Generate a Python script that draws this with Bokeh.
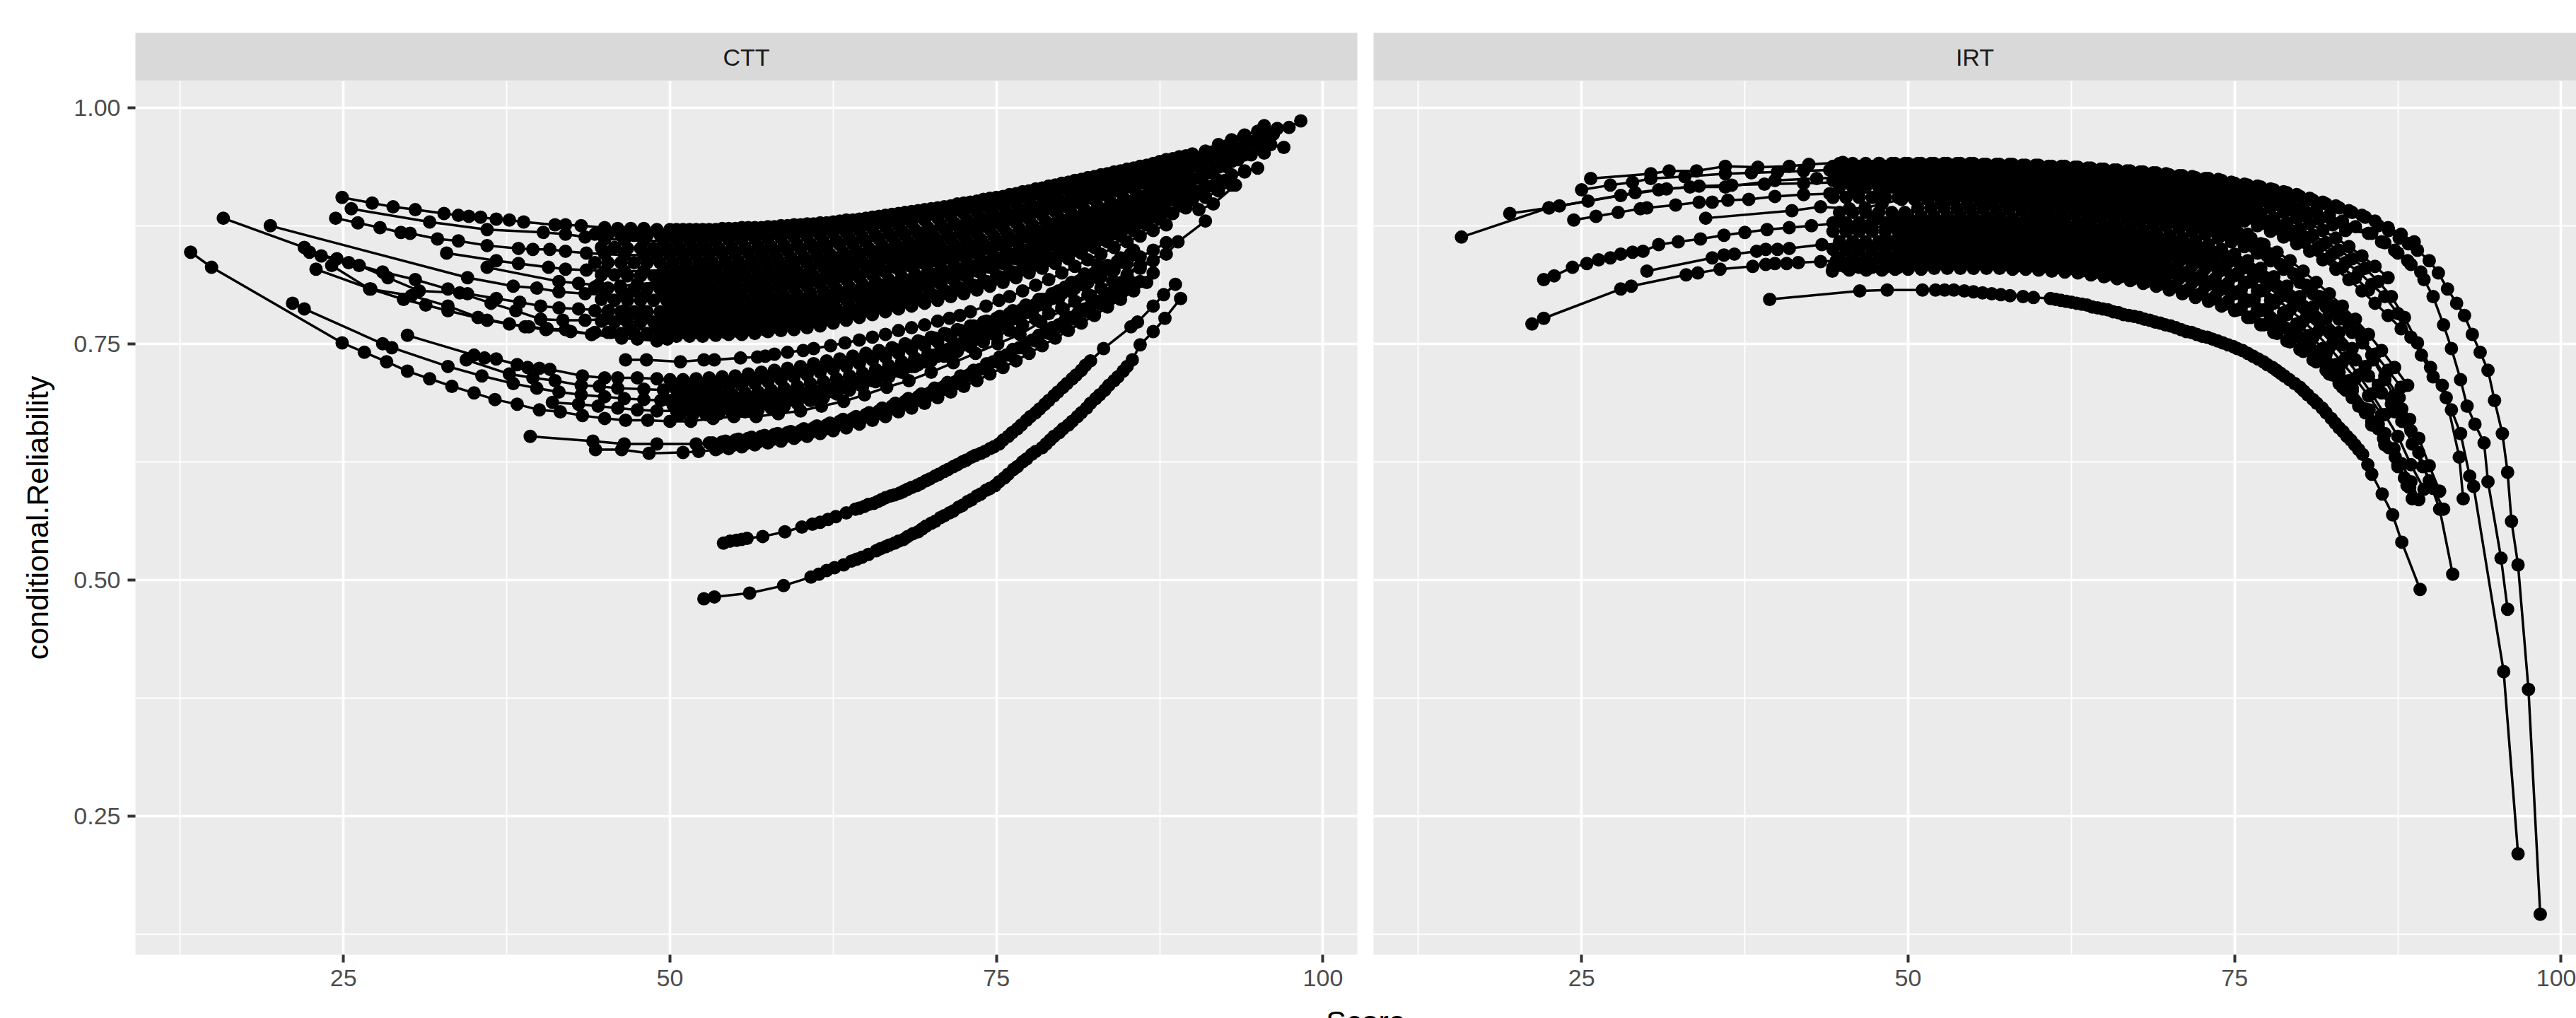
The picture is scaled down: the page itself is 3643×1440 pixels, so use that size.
from bokeh.embed import file_html
from bokeh.resources import INLINE
from bokeh.plotting import figure
from bokeh.layouts import column, row
from bokeh.models import FixedTicker, NumeralTickFormatter, Range1d
from bokeh.core.properties import value

panel_names = ["CTT", "IRT"]
x_label = "Score"
y_label = "conditional.Reliability"
x_ticks = [25, 50, 75, 100]
x_minor = [12.5, 37.5, 62.5, 87.5]
y_ticks = [0.25, 0.50, 0.75, 1.00]
y_minor = [0.125, 0.375, 0.625, 0.875]

si = [50,51,52,53,54,55,56,57,58,59,60,61,62,63,64,65,66,67,68,69,70,71,72,73,74,75,76,77,78,79,80,81,82,83,84,85,86,87,88,89,90]
sh = [50.5,51.5,52.5,53.5,54.5,55.5,56.5,57.5,58.5,59.5,60.5,61.5,62.5,63.5,64.5,65.5,66.5,67.5,68.5,69.5,70.5,71.5,72.5,73.5,74.5,75.5,76.5,77.5,78.5,79.5,80.5,81.5,82.5,83.5,84.5,85.5,86.5,87.5,88.5,89.5]
sq = [44.25,45.25,46.25,47.25,48.25,49.25,50.25,51.25,52.25,53.25,54.25,55.25,56.25,57.25,58.25,59.25,60.25,61.25,62.25,63.25,64.25,65.25,66.25,67.25,68.25,69.25,70.25,71.25,72.25,73.25,74.25,75.25,76.25,77.25,78.25,79.25,80.25,81.25,82.25,83.25,84.25,85.25,86.25,87.25,88.25,89.25]
sr = [44.75,45.75,46.75,47.75,48.75,49.75,50.75,51.75,52.75,53.75,54.75,55.75,56.75,57.75,58.75,59.75,60.75,61.75,62.75,63.75,64.75,65.75,66.75,67.75,68.75,69.75,70.75,71.75,72.75,73.75,74.75,75.75,76.75,77.75,78.75,79.75,80.75,81.75,82.75,83.75,84.75,85.75,86.75,87.75,88.75,89.75]

# ---- CTT panel ----
c1_hx = [24.9,27.2,28.8,30.5,32.7,33.8,34.6,35.5,36.7,37.7,38.8,41.2,42,43.2,45,46,47,48,49]
c1_hy = [.905,.899,.895,.892,.888,.886,.885,.884,.882,.881,.879,.876,.876,.875,.873,.872,.872,.872,.871]
c1_y = [.871,.871,.871,.871,.872,.872,.873,.873,.874,.875,.876,.877,.878,.880,.881,.883,.885,.887,.889,.891,.893,.895,.898,.900,.903,.905,.908,.911,.914,.917,.920,.923,.926,.929,.932,.935,.938,.941,.945,.948,.951]
c1_tx = [91,92,93,94,95,95.5,96.5,97.4,98.3]
c1_ty = [.954,.961,.966,.971,.975,.977,.978,.979,.986]
c1b_y = [.871,.871,.871,.871,.872,.873,.873,.874,.875,.876,.877,.878,.879,.881,.882,.884,.886,.888,.890,.892,.894,.896,.899,.901,.904,.906,.909,.912,.915,.918,.921,.924,.927,.930,.933,.936,.939,.943,.946,.949]
c2_hx = [25.6,31.6,36,40.3,42,43.5,45,46.5,48,49.5]
c2_hy = [.893,.879,.871,.868,.866,.863,.861,.860,.859,.859]
c2_y = [.859,.859,.859,.859,.860,.860,.861,.861,.862,.863,.864,.865,.867,.868,.870,.872,.874,.876,.878,.881,.883,.885,.888,.890,.893,.896,.899,.902,.905,.908,.912,.915,.918,.922,.925,.929,.932,.936,.939,.943]
c2_tx = [90.5,91.5,92.7,93.9,95.5]
c2_ty = [.947,.953,.960,.969,.981]
c3_hx = [24.4,26.1,27.8,29.4,30.1,32.2,33.8,36,38.4,39.5,40.8,42,43.6,45,46.5,48,49]
c3_hy = [.883,.878,.873,.868,.867,.861,.859,.854,.851,.850,.850,.848,.846,.845,.844,.844,.844]
c3_y = [.844,.844,.844,.844,.845,.845,.846,.846,.847,.849,.850,.851,.852,.855,.856,.858,.861,.863,.865,.867,.869,.872,.875,.877,.880,.883,.886,.890,.893,.897,.900,.904,.908,.911,.915,.919,.922,.926,.931,.934,.938]
c3_tx = [91,92,93,94,95,96.2]
c3_ty = [.943,.948,.955,.961,.967,.972]
c4_hx = [32.9,36.7,38.4,40.7,42,43.6,45,46.5,48,49.5]
c4_hy = [.846,.838,.835,.831,.829,.828,.827,.827,.827,.828]
c4_y = [.828,.828,.829,.829,.830,.830,.831,.832,.833,.834,.836,.837,.839,.841,.843,.846,.848,.850,.853,.855,.858,.861,.864,.867,.871,.874,.878,.882,.886,.890,.894,.898,.903,.907,.911,.915,.920,.924,.929,.933]
c4_tx = [90.5,91.5,92.5,93.5,94.5,95.8]
c4_ty = [.938,.944,.950,.957,.964,.965]
c5_hx = [36,41.5,43,44.5,46.2,47.5,49]
c5_hy = [.831,.816,.814,.812,.811,.813,.815]
c5_y = [.815,.815,.815,.815,.816,.816,.817,.818,.819,.820,.821,.822,.825,.827,.829,.832,.834,.837,.839,.842,.844,.847,.850,.853,.856,.859,.863,.867,.871,.875,.879,.883,.888,.892,.897,.901,.906,.910,.915,.920,.924]
c5_tx = [91,92,93,94,95,96,97]
c5_ty = [.930,.937,.943,.950,.957,.961,.958]
c6_hx = [19.4,34.5,38,39.8,41.5,43.5,45,46.5,48,49.5]
c6_hy = [.875,.820,.811,.809,.805,.803,.802,.801,.800,.801]
c6_y = [.801,.801,.802,.802,.803,.804,.805,.806,.807,.809,.811,.813,.815,.818,.820,.823,.826,.829,.832,.835,.838,.841,.844,.847,.851,.855,.859,.864,.868,.873,.877,.882,.887,.892,.897,.902,.907,.912,.917,.921]
c6_tx = [90.5,91.5,92.5,93.5,94.5,95.5]
c6_ty = [.926,.931,.938,.945,.950,.952]
c7_hx = [15.8,22,23.3,25.4,28,30.5,33,34.5,36.7,38.5,40.1,41.5,43,45.3,46.5,48,49.8]
c7_hy = [.883,.852,.843,.836,.826,.818,.808,.803,.798,.794,.790,.788,.787,.785,.785,.784,.783]
c7_y = [.789,.789,.789,.789,.790,.790,.791,.792,.793,.795,.796,.797,.800,.803,.805,.808,.811,.813,.816,.819,.821,.824,.828,.831,.834,.838,.842,.847,.851,.856,.860,.865,.870,.875,.880,.885,.891,.896,.901,.906,.912]
c7_tx = [91,92,93,94,95]
c7_ty = [.917,.923,.929,.933,.936]
c8_hx = [22.4,24.5,26.2,28.4,30.8,33.9,36.3,38.2,40.1,41.8,43.5,45,46.5,48,49.5]
c8_hy = [.847,.840,.833,.820,.806,.804,.793,.785,.776,.775,.775,.776,.776,.777,.778]
c8_y = [.778,.778,.779,.779,.780,.781,.782,.783,.785,.787,.789,.791,.793,.796,.799,.801,.804,.807,.810,.813,.816,.820,.823,.827,.831,.835,.840,.844,.849,.854,.859,.864,.869,.875,.880,.886,.891,.896,.902,.907]
c8_tx = [90.5,91.5,92.5,94]
c8_ty = [.912,.917,.923,.932]
c9_hx = [24.1,27,30.2,33,35.3,37.7,39.2,40.6,42,44,45.5,47,49]
c9_hy = [.833,.808,.801,.790,.778,.771,.768,.766,.765,.760,.762,.765,.766]
c9_y = [.767,.767,.767,.768,.769,.769,.770,.771,.772,.774,.775,.777,.780,.782,.785,.788,.791,.794,.797,.800,.803,.806,.810,.813,.816,.821,.825,.830,.835,.840,.845,.850,.855,.861,.867,.873,.878,.884,.890,.896,.902]
c9_tx = [91,92,93]
c9_ty = [.905,.912,.918]
c10_hx = [22.9,27.1,29.6,31.3,33,36,38.9,40.5,42.4,44,46.3,47.5,49,49.8]
c10_hy = [.829,.808,.797,.791,.785,.775,.768,.765,.763,.760,.756,.755,.753,.755]
c10_y = [.758,.758,.758,.759,.760,.760,.761,.763,.764,.765,.767,.769,.772,.775,.778,.781,.784,.787,.790,.793,.796,.800,.803,.807,.811,.815,.820,.825,.830,.835,.840,.846,.852,.858,.864,.870,.876,.882,.888,.894]
c10_tx = [90.5,91.6,93.3]
c10_ty = [.892,.898,.918]
n2_y = [.866,.866,.865,.865,.865,.865,.864,.864,.864,.864,.865,.865,.866,.866,.867,.868,.869,.870,.872,.874,.875,.877,.879,.881,.883,.885,.887,.889,.892,.894,.897,.899,.903,.906,.909,.912,.915,.918,.921,.925,.928,.931,.934,.937,.941,.945]
n3_y = [.852,.852,.851,.851,.851,.851,.851,.851,.851,.851,.852,.852,.853,.853,.854,.855,.856,.858,.859,.861,.863,.865,.867,.869,.871,.873,.876,.878,.881,.884,.887,.890,.893,.896,.900,.903,.906,.910,.913,.917,.920,.924,.928,.931,.935,.939]
n4_y = [.836,.836,.836,.836,.836,.836,.836,.836,.836,.836,.837,.837,.838,.839,.840,.841,.842,.844,.845,.847,.849,.851,.854,.856,.858,.861,.863,.866,.869,.872,.875,.878,.882,.885,.889,.893,.896,.900,.904,.908,.912,.916,.920,.924,.928,.932]
n5_y = [.823,.823,.822,.822,.822,.822,.822,.822,.822,.822,.823,.823,.824,.825,.826,.827,.829,.831,.833,.835,.837,.840,.842,.845,.847,.850,.852,.855,.858,.861,.865,.868,.872,.876,.880,.884,.888,.892,.896,.900,.904,.908,.913,.918,.922,.926]
n6_y = [.810,.809,.808,.808,.808,.808,.808,.808,.808,.808,.809,.809,.810,.811,.812,.814,.815,.817,.819,.821,.823,.826,.828,.831,.833,.836,.838,.841,.844,.847,.851,.855,.859,.863,.867,.871,.875,.880,.884,.889,.893,.898,.903,.908,.912,.917]
n7_y = [.797,.796,.796,.796,.796,.796,.795,.795,.796,.796,.797,.797,.798,.799,.800,.802,.804,.806,.808,.810,.813,.816,.818,.821,.824,.827,.830,.833,.836,.840,.844,.848,.852,.857,.862,.866,.871,.876,.881,.886,.891,.896,.901,.906,.911,.916]
n8_y = [.785,.784,.784,.784,.784,.784,.784,.784,.784,.785,.785,.786,.787,.788,.789,.791,.793,.795,.797,.800,.802,.805,.808,.811,.814,.817,.820,.823,.827,.830,.834,.838,.843,.847,.852,.857,.862,.867,.872,.877,.882,.887,.892,.897,.903,.908]
n9_y = [.774,.773,.773,.773,.773,.773,.773,.773,.773,.774,.774,.775,.776,.777,.779,.781,.783,.785,.787,.790,.793,.796,.799,.802,.805,.809,.813,.817,.821,.826,.830,.835,.840,.845,.851,.856,.862,.867,.873,.879,.885,.891]
n10_y = [.762,.762,.761,.761,.761,.761,.761,.761,.761,.762,.762,.763,.764,.765,.767,.769,.771,.773,.775,.779,.782,.785,.788,.791,.794,.797,.801,.805,.809,.812,.816,.821,.826,.831,.836,.841,.847,.853,.859,.865,.871,.877,.883,.889]

d1_hx = [21.1,22,28,28.7,33,35.6,38,39.8,41.5,43.2,45,46.5,48,49.3]
d1_hy = [.793,.787,.750,.746,.726,.716,.708,.703,.699,.696,.694,.692,.691,.690]
d1_y = [.690,.690,.690,.691,.691,.692,.693,.694,.696,.697,.699,.701,.704,.707,.710,.713,.717,.720,.724,.728,.732,.737,.742,.747,.752,.758,.764,.770,.776,.782,.788,.795,.802,.809,.816,.823,.830,.838]
d3_hx = [29.9,35,35.8,36.7,38.3,39.1,40,40.8,43.3,45,46,47.5,49]
d3_hy = [.759,.738,.735,.734,.728,.725,.724,.723,.716,.714,.714,.714,.713]
d3_y = [.712,.712,.713,.714,.715,.716,.718,.720,.722,.724,.726,.729,.732,.734,.737,.740,.743,.746,.750,.753,.757,.761,.765,.769,.773,.777,.782,.787,.792,.797,.803,.809,.815,.821,.828,.835,.842,.849,.857]
d4_hx = [34.4,37.7,39.5,41.2,43.2,44.6,46,48,49.5]
d4_hy = [.733,.718,.714,.711,.706,.705,.703,.702,.701]
d4_y = [.701,.702,.702,.703,.704,.706,.708,.710,.712,.715,.717,.720,.723,.726,.729,.733,.736,.740,.744,.748,.752,.757,.762,.767,.773,.778,.784,.790,.797,.804,.811,.818,.825,.833,.841,.849]
d6_hx = [41,43,44.5,46,47.5,49]
d6_hy = [.688,.686,.684,.682,.680,.679]
d6_y = [.679,.680,.680,.681,.682,.683,.684,.686,.688,.690,.693,.696,.699,.703,.707,.711,.716,.721,.726,.731,.737,.743,.749,.755,.761]
dn1_y = [.707,.708,.708,.709,.710,.711,.713,.715,.717,.720,.722,.725,.728,.731,.734,.737,.740,.744,.748,.752,.756,.760,.764,.769,.774,.779,.785,.791,.797,.803,.810,.816,.823,.830,.837,.845]
dn2_y = [.696,.696,.696,.696,.697,.698,.699,.701,.703,.705,.708,.710,.713,.716,.719,.723,.727,.731,.735,.739,.744,.749,.754,.760,.766,.772,.778,.784,.791,.798,.805,.812,.820,.828,.836]
dn3_y = [.685,.685,.685,.686,.687,.688,.689,.690,.692,.694,.696,.699,.702,.705,.709,.713,.718,.722,.727,.732,.738,.744,.750,.756,.762,.769,.776,.783,.791,.798,.806,.814,.822,.830]
dn4_y = [.675,.675,.675,.676,.677,.678,.680,.682,.684,.687,.690,.693,.697,.701,.705,.710,.715,.720,.726,.732,.738,.744,.751,.758,.765,.773,.781,.789,.797,.806,.815,.824,.834]
d2_x = [13.3,14.9,24.9,26.6,28.3,29.9,31.6,33.3,35,36.6,38.3,40,41.6,43.3,45,46.6,48.3,50,51.6,53.3,54.9,56.6,58.3,60,61.6,63.3,64.9,66.6,68.3,70,71.7,73.4,75.1,76.8,78.4,80.1,82.2,83.9,86,88,88.9,91]
d2_y = [.847,.831,.751,.741,.731,.721,.713,.705,.698,.691,.686,.680,.678,.674,.671,.669,.669,.668,.668,.671,.673,.673,.676,.679,.684,.689,.696,.704,.711,.720,.730,.740,.750,.760,.773,.786,.801,.816,.833,.845,.858,.880]
d5_x = [46.6,48.2,50.8,52.6,53.4,55.4,56.7,57.3,58,59,60.2,61,62.3,63.4,64.5,65.5,66.5,67.5,68.5,69.5,70.5,71.4,72.2,73,74.2,75.2,76,77,78,79,80,81,82,83,84,85,86,87,88]
d5_y = [.733,.733,.731,.733,.733,.735,.736,.737,.739,.741,.743,.745,.748,.751,.754,.757,.760,.764,.767,.770,.774,.777,.780,.784,.790,.796,.800,.806,.812,.818,.825,.832,.839,.845,.852,.858,.864,.870,.876]
e1_hx = [39.3,44.1,46.5,49,52]
e1_hy = [.652,.647,.644,.644,.644]
e1_y = [.645,.646,.648,.650,.652,.654,.656,.658,.661,.664,.668,.671,.675,.679,.684,.689,.694,.699,.705,.711,.718,.724,.731,.738,.746,.753,.761,.768,.776,.784,.792,.800,.808,.816,.825]
e2_hx = [44.3,46.3,48.4,51,52.2]
e2_hy = [.638,.638,.634,.635,.636]
e2_y = [.638,.639,.641,.643,.645,.647,.650,.652,.655,.658,.661,.665,.669,.673,.678,.682,.687,.693,.699,.705,.711,.718,.725,.732,.740,.748,.756,.764,.772,.780,.789,.797,.806,.815]
e3_y = [.645,.647,.649,.651,.653,.655,.657,.660,.663,.666,.670,.673,.677,.682,.687,.692,.697,.703,.709,.716,.722,.729,.736,.744,.751,.759,.767,.775,.783,.791,.799,.807,.816]
e4_y = [.640,.642,.644,.646,.648,.651,.653,.656,.659,.663,.667,.671,.675,.680,.685,.691,.697,.703,.709,.716,.723,.731,.738,.746,.754,.762,.770,.778,.787,.795,.804,.813]
a_x = [54.1,54.6,55.1,55.5,55.9,57.1,58.8,60.1,60.9,61.5,62.1,62.7,63.5,64.2,64.9,65.6,66.2,66.9,67.6,68.2,68.9,69.6,70.3,71,71.7,72.4,73.1,73.8,74.5,75.2,75.9,76.6,77.3,78,78.7,79.4,80.1,80.8,81.5,82.2,83.2,85.3,85.8,87,87.8,88.7]
a_y = [.539,.541,.542,.543,.544,.546,.551,.556,.559,.561,.564,.567,.571,.575,.578,.581,.585,.589,.592,.596,.600,.605,.610,.615,.620,.625,.630,.634,.639,.644,.652,.660,.669,.677,.686,.695,.704,.713,.722,.732,.745,.768,.773,.790,.802,.813]
a2_x = [64.5,65.2,65.9,66.5,67.2,67.9,68.5,69.2,69.9,70.6,71.3,72,72.7,73.4,74.1,74.8,75.5,76.2,76.9,77.6,78.3,79,79.7,80.4,81.1,81.8]
a2_y = [.576,.580,.583,.587,.590,.594,.598,.602,.607,.612,.617,.622,.627,.632,.636,.641,.648,.656,.664,.673,.681,.690,.699,.708,.717,.727]
b_x = [52.6,53.4,56.1,58.7,60.8,61.4,62,62.6,63.3,63.9,64.7,65.8,66.5,67.2,67.9,68.6,69.3,70,70.7,71.4,72.1,72.8,73.5,74.2,74.9,75.6,76.3,77,77.7,78.5,79.1,79.8,80.5,81.2,81.9,82.6,83.3,84,84.7,85.4,86,87,87.9,89.1]
b_y = [.480,.482,.486,.494,.503,.506,.510,.513,.516,.520,.524,.531,.535,.539,.543,.549,.554,.560,.566,.571,.577,.583,.589,.595,.600,.608,.617,.625,.633,.640,.648,.656,.664,.673,.682,.692,.701,.711,.721,.733,.749,.763,.777,.798]
b2_x = [64.3,65.2,66.1,66.8,67.5,68.2,69,69.6,70.3,71,71.7,72.4,73.1,73.8,74.5,75.2,75.9,76.6,77.3,78,78.8,79.4,80.1,80.8,81.5,82.2,82.9,83.6,84.3,85]
b2_y = [.522,.527,.533,.537,.541,.546,.551,.557,.562,.568,.573,.579,.585,.591,.597,.604,.612,.620,.628,.636,.644,.652,.660,.668,.677,.687,.696,.706,.715,.726]

# ---- IRT panel ----
t1_hx = [25.7,30.3,31.7,33.8,36,38.5,40.9,42.4,45,47.8,49]
t1_hy = [.925,.930,.933,.933,.938,.937,.938,.940,.942,.941,.941]
t1_y = [.941,.941,.941,.941,.941,.941,.940,.940,.940,.939,.939,.938,.938,.937,.936,.935,.934,.933,.932,.931,.929,.928,.926,.925,.923,.920,.918,.916,.913,.910,.906,.902,.898,.894,.889]
t1_tx = [85,86,86.8,87.6,88.3,89,89.9,90.6,91.3,92,92.6,93.2,93.8,94.4,94.9,95.5,95.9,96.2,96.7,97.5,98.4]
t1_ty = [.884,.875,.870,.862,.856,.849,.838,.825,.808,.793,.780,.760,.741,.722,.690,.655,.614,.562,.516,.384,.146]
t2_hx = [25,27.2,28.9,30.3,32.9,36,38,40,42,44,46,48,49.5]
t2_hy = [.913,.918,.921,.925,.927,.930,.931,.932,.933,.934,.934,.935,.935]
t2_y = [.935,.935,.935,.935,.935,.935,.935,.934,.934,.933,.933,.932,.931,.930,.929,.928,.927,.926,.924,.923,.921,.919,.917,.914,.911,.908,.904,.901,.897,.892,.887,.882,.876,.870]
t2_tx = [85.5,86.5,87.5,88.5,89.5,90.2,91,91.6,92.3,92.8,93.4,94.1,94.4,95.4,95.9]
t2_ty = [.867,.857,.846,.834,.818,.800,.770,.745,.712,.684,.665,.645,.604,.523,.469]
t3_hx = [15.8,22.5,29.1,30.9,33.3,36,39.8,43,46,48.5]
t3_hy = [.863,.894,.910,.913,.916,.916,.923,.925,.927,.928]
t3_y = [.928,.928,.928,.928,.928,.928,.928,.928,.927,.927,.926,.925,.924,.923,.922,.921,.919,.917,.915,.913,.911,.909,.906,.903,.901,.898,.893,.888,.883,.878,.872,.865,.857,.849,.840]
t3_tx = [85,86,87,88,89,90,90.9,91.6,92.3,93,93.3,95.6,96.7]
t3_ty = [.830,.816,.800,.778,.751,.725,.706,.680,.655,.610,.599,.403,.210]
t4_hx = [19.5,22.5,23.3,25.5,28,31.5,34,36.5,39,42,45,48]
t4_hy = [.888,.894,.896,.901,.907,.914,.917,.918,.919,.920,.921,.922]
t4_y = [.922,.922,.922,.921,.921,.921,.920,.920,.920,.919,.918,.918,.917,.916,.915,.913,.912,.910,.908,.906,.904,.901,.899,.896,.892,.888,.883,.878,.873,.867,.861,.853,.845,.836,.826]
t4_tx = [85.5,86.5,87.5,88.5,89.3,90.2,91.2,92.2,92.5]
t4_ty = [.813,.800,.782,.757,.738,.715,.693,.630,.586]
t5_hx = [24.4,26.1,27.8,29.5,30,32.2,34,35,36.2,37.8,39.8,42,44,46,48,49.3]
t5_hy = [.881,.885,.889,.893,.894,.897,.900,.900,.902,.903,.906,.908,.909,.910,.911,.912]
t5_y = [.912,.912,.911,.911,.911,.910,.910,.909,.909,.908,.908,.907,.906,.904,.903,.901,.900,.898,.896,.895,.893,.890,.887,.884,.880,.875,.866,.856,.845,.831,.815,.803,.789,.776,.762]
t5_tx = [84.8,85.6,86.5,87.2,87.8,88.5,89.1,89.9,90.7,91.7]
t5_ty = [.751,.733,.712,.695,.681,.658,.635,.605,.575,.506]
t6_hx = [34.5,41.1,43.3,45.5,46.7,48,49.5]
t6_hy = [.883,.891,.895,.893,.894,.898,.903]
t6_y = [.903,.903,.902,.902,.901,.901,.900,.900,.899,.898,.897,.896,.895,.893,.892,.890,.889,.887,.885,.883,.881,.878,.874,.871,.867,.860,.852,.843,.834,.824,.812,.800,.790,.777,.763]
t6_tx = [85.5,86.5,87.6,88.4,89.1,89.9,90.7]
t6_ty = [.738,.716,.693,.670,.650,.621,.594]
t7_hx = [22.1,22.9,24.3,25.4,26.3,27.2,28,28.9,29.7,30.9,32.4,34.1,35.9,37.5,39.2,40.9,42.6,45,47.4,49]
t7_hy = [.818,.822,.831,.835,.839,.841,.845,.847,.848,.855,.858,.861,.865,.868,.871,.873,.875,.878,.881,.884]
t7_y = [.885,.885,.885,.885,.885,.885,.884,.884,.883,.883,.882,.881,.880,.878,.877,.875,.874,.872,.870,.868,.865,.862,.859,.855,.850,.845,.838,.830,.821,.811,.800,.789,.776,.762,.745]
t7_tx = [85,86,87,87.8,88.6,89.4,90.2,91]
t7_ty = [.726,.706,.686,.668,.644,.620,.597,.575]
x1_hx = [45.5,47,48.5,49.5]
x1_hy = [.872,.873,.874,.875]
x1_y = [.875,.875,.875,.875,.875,.875,.874,.874,.873,.872,.871,.870,.869,.867,.865,.863,.861,.859,.857,.855,.852,.849,.845,.841,.836,.829,.820,.811,.800,.790,.778]
x1_tx = [81.5,82.5,83.5,84.5,85.5,86.5,87.5,88.5,89.5]
x1_ty = [.765,.750,.735,.717,.697,.675,.652,.622,.596]
t8_hx = [30,35,35.9,36.7,38.4,39.1,40,40.9,43.4,45.9,48.4,49.3]
t8_hy = [.827,.841,.844,.845,.848,.850,.850,.851,.855,.856,.856,.864]
t8_y = [.866,.866,.866,.866,.866,.865,.865,.864,.864,.863,.862,.861,.860,.858,.856,.854,.852,.850,.848,.846,.844,.841,.837,.833,.828,.822,.815,.806,.793,.781,.770,.757,.739,.720,.703]
t8_tx = [85.3,86,86.5,87.2,87.8,88.5,89.1]
t8_ty = [.680,.665,.655,.639,.623,.604,.585]
x2_hx = [46,48,49.5]
x2_hy = [.854,.855,.856]
x2_y = [.856,.856,.856,.856,.855,.855,.855,.854,.853,.853,.852,.850,.849,.847,.845,.843,.841,.839,.836,.834,.831,.827,.823,.819,.814,.807,.797,.786,.773,.761,.748]
x2_tx = [81.5,82.5,83.5,84.5,85.5,86.5,87.5,88.4]
x2_ty = [.733,.717,.701,.684,.664,.643,.622,.598]
t9_hx = [21.2,22.1,28,28.8,33,33.9,35.6,38.1,39.1,39.8,40.7,41.6,43.3,44.5,46.7,48,49.3]
t9_hy = [.771,.777,.808,.811,.823,.825,.829,.832,.834,.835,.835,.836,.837,.838,.839,.842,.845]
t9_y = [.846,.846,.846,.846,.845,.845,.845,.844,.844,.843,.843,.841,.840,.838,.836,.834,.832,.830,.828,.827,.825,.822,.818,.813,.808,.803,.795,.785,.775,.766,.757,.743,.728,.713,.700]
t9_tx = [85,86,86.8,87.5,88.2]
t9_ty = [.681,.660,.640,.620,.600]
x3_hx = [45,47,48.5,49.5]
x3_hy = [.833,.835,.837,.838]
x3_y = [.838,.838,.838,.838,.837,.837,.836,.836,.835,.834,.833,.832,.830,.829,.827,.825,.823,.820,.818,.815,.812,.808,.804,.800,.795,.788,.780,.771]
t10_hx = [44.2,45.5,46.8,48,49]
t10_hy = [.827,.828,.828,.828,.829]
t10_y = [.829,.829,.830,.830,.830,.830,.830,.830,.829,.829,.828,.827,.826,.825,.823,.821,.819,.817,.814,.811,.807,.803,.799,.795,.790,.785,.778,.770,.762,.753,.744,.733,.722,.708,.693]
t10_tx = [85,85.5,86.4,87.3,88,88.6]
t10_ty = [.677,.668,.650,.630,.608,.586]
u1_y = [.941,.941,.941,.941,.941,.941,.941,.941,.941,.941,.941,.940,.940,.940,.939,.939,.938,.938,.937,.936,.935,.934,.933,.932,.931,.930,.928,.927,.925,.924,.921,.919,.917,.914,.911,.908,.904,.900,.896,.891,.886,.880,.873,.866,.858]
u2_y = [.938,.938,.938,.938,.938,.938,.938,.938,.938,.938,.938,.938,.938,.937,.937,.936,.936,.935,.934,.933,.932,.931,.930,.929,.928,.926,.925,.923,.921,.919,.917,.914,.911,.908,.905,.901,.896,.891,.886,.880,.874,.867,.858,.849,.838,.826]
u3_y = [.931,.931,.931,.931,.932,.932,.932,.932,.932,.932,.932,.932,.931,.931,.931,.930,.930,.929,.928,.927,.926,.925,.924,.922,.921,.919,.917,.914,.912,.909,.906,.902,.898,.894,.889,.883,.877,.870,.862,.853,.843,.832,.820]
u4_y = [.923,.923,.924,.924,.924,.925,.925,.925,.925,.925,.924,.924,.924,.924,.923,.923,.922,.921,.920,.919,.918,.917,.915,.913,.911,.909,.907,.904,.901,.898,.894,.889,.884,.878,.872,.866,.859,.850,.841,.831,.820,.807]
u5_y = [.916,.916,.916,.916,.916,.916,.917,.917,.917,.916,.916,.916,.915,.915,.914,.914,.913,.912,.911,.910,.909,.907,.906,.904,.902,.900,.898,.895,.892,.888,.884,.880,.875,.869,.863,.856,.848,.839,.829,.818,.806,.793,.780,.766]
u6_y = [.905,.905,.905,.905,.905,.905,.907,.907,.907,.906,.906,.906,.905,.905,.904,.903,.903,.901,.900,.899,.897,.895,.894,.892,.890,.888,.886,.883,.880,.877,.873,.868,.862,.855,.847,.838,.827,.815,.803,.790,.776,.760,.743,.725,.706]
u7_y = [.889,.889,.889,.889,.889,.889,.894,.894,.894,.893,.893,.893,.892,.892,.891,.890,.889,.888,.887,.885,.884,.882,.881,.879,.877,.875,.872,.869,.866,.862,.858,.853,.846,.838,.829,.819,.808,.796,.783,.770,.755,.739,.722,.704]
u8_y = [.878,.878,.878,.878,.878,.878,.880,.880,.880,.880,.880,.880,.879,.879,.878,.878,.877,.876,.874,.873,.871,.869,.868,.866,.864,.861,.859,.856,.852,.848,.843,.837,.829,.821,.811,.800,.789,.777,.763,.749,.733,.716,.698,.678]
u9_y = [.869,.869,.869,.869,.869,.869,.871,.871,.871,.871,.870,.870,.870,.869,.869,.868,.867,.866,.864,.862,.861,.859,.857,.855,.853,.850,.848,.844,.841,.837,.832,.825,.817,.808,.797,.786,.774,.761,.746,.730,.713,.695,.675]
u10_y = [.858,.858,.858,.858,.858,.858,.861,.861,.861,.861,.860,.860,.860,.859,.858,.858,.857,.856,.854,.852,.850,.848,.846,.844,.842,.840,.837,.833,.830,.826,.821,.814,.806,.796,.783,.771,.759,.745,.728,.711]
u11_y = [.850,.850,.850,.850,.850,.850,.851,.851,.851,.851,.850,.850,.850,.849,.849,.848,.847,.846,.845,.843,.841,.839,.837,.835,.832,.830,.828,.825,.820,.816,.811,.805,.796,.786,.774,.763,.752,.738,.722,.707]
u12_y = [.841,.841,.841,.841,.841,.841,.842,.842,.842,.842,.841,.841,.841,.840,.840,.839,.838,.837,.835,.833,.832,.830,.827,.825,.823,.821,.819,.815,.811,.806,.802,.795,.787,.778,.768,.759,.748,.735,.720,.705]
u13_y = [.831,.831,.831,.831,.831,.831,.833,.833,.834,.834,.834,.834,.834,.833,.832,.832,.831,.830,.829,.827,.825,.823,.821,.819,.816,.813,.810,.806,.802,.797,.792,.786,.778,.770,.761,.752,.742,.731,.718,.704]
k_x = [39.4,46.3,48.4,51.1,52.1,52.8,53.5,54.3,55,55.7,56.4,57.1,57.8,58.8,59.6,60.9,61.7,62.5,63.3,64.1,64.9,65.7,66.5,67.3,68.1,68.9,69.7,70.5,71.3,72.1,72.9,73.7,74.5,75.2,76,76.8,77.5,78.2,78.8,79.6,80.3,81,81.7,82.4,83,83.6,84.2,84.8,85.2,85.5,86.3,87.1,87.8,89.2]
k_y = [.797,.806,.807,.807,.807,.807,.807,.806,.805,.804,.803,.802,.801,.800,.799,.798,.796,.794,.792,.789,.787,.784,.781,.779,.776,.773,.770,.767,.763,.760,.757,.753,.749,.745,.740,.734,.728,.722,.716,.708,.700,.691,.682,.671,.661,.652,.643,.633,.622,.612,.591,.569,.540,.490]
k2_x = [61.3,62.1,62.9,63.7,64.5,65.3,66.1,66.9,67.7,68.5,69.3,70.1,70.9,71.7,72.5,73.3,74.1,74.9,75.6,76.4,77.2,77.9,78.5,79.2,80,80.6,81.3,82,82.7,83.3,83.9,84.5]
k2_y = [.797,.795,.793,.791,.788,.786,.783,.780,.778,.775,.772,.769,.765,.762,.758,.755,.751,.747,.743,.737,.731,.725,.719,.712,.704,.696,.687,.677,.666,.657,.648,.638]

ctt_series = [
    (c10_hx, c10_hy, sh, c10_y, c10_tx, c10_ty), (c9_hx, c9_hy, si, c9_y, c9_tx, c9_ty),
    (c8_hx, c8_hy, sh, c8_y, c8_tx, c8_ty), (c7_hx, c7_hy, si, c7_y, c7_tx, c7_ty),
    (c6_hx, c6_hy, sh, c6_y, c6_tx, c6_ty), (c5_hx, c5_hy, si, c5_y, c5_tx, c5_ty),
    (c4_hx, c4_hy, sh, c4_y, c4_tx, c4_ty), (c3_hx, c3_hy, si, c3_y, c3_tx, c3_ty),
    (c2_hx, c2_hy, sh, c2_y, c2_tx, c2_ty), (c1_hx, c1_hy, si, c1_y, c1_tx, c1_ty),
    ([], [], sh, c1b_y, [], []), ([], [], sq, n2_y, [], []), ([], [], sr, n3_y, [], []),
    ([], [], sq, n4_y, [], []), ([], [], sr, n5_y, [], []), ([], [], sq, n6_y, [], []),
    ([], [], sr, n7_y, [], []), ([], [], sq, n8_y, [], []), ([], [], sr, n9_y, [], []),
    ([], [], sq, n10_y, [], []),
    (d1_hx, d1_hy, si, d1_y, [], []), (d3_hx, d3_hy, si, d3_y, [], []),
    (d4_hx, d4_hy, sh, d4_y, [], []), (d6_hx, d6_hy, sh, d6_y, [], []),
    ([], [], sq[6:], dn1_y, [], []), ([], [], sr[6:], dn2_y, [], []),
    ([], [], sq[6:], dn3_y, [], []), ([], [], sr[6:], dn4_y, [], []),
    (d2_x, d2_y, [], [], [], []), (d5_x, d5_y, [], [], [], []),
    (e1_hx, e1_hy, si[3:], e1_y, [], []), (e2_hx, e2_hy, sh[3:], e2_y, [], []),
    ([], [], sq[9:], e3_y, [], []), ([], [], sr[9:], e4_y, [], []),
    (a_x, a_y, [], [], [], []), (b_x, b_y, [], [], [], []),
    ([], [], a2_x, a2_y, [], []), ([], [], b2_x, b2_y, [], []),
]
irt_series = [
    (t1_hx, t1_hy, si, t1_y, t1_tx, t1_ty), (t2_hx, t2_hy, sh, t2_y, t2_tx, t2_ty),
    (t3_hx, t3_hy, si, t3_y, t3_tx, t3_ty), (t4_hx, t4_hy, sh, t4_y, t4_tx, t4_ty),
    (t5_hx, t5_hy, si, t5_y, t5_tx, t5_ty), (t6_hx, t6_hy, sh, t6_y, t6_tx, t6_ty),
    (t7_hx, t7_hy, si, t7_y, t7_tx, t7_ty), (x1_hx, x1_hy, sh, x1_y, x1_tx, x1_ty),
    (t8_hx, t8_hy, si, t8_y, t8_tx, t8_ty), (x2_hx, x2_hy, sh, x2_y, x2_tx, x2_ty),
    (t9_hx, t9_hy, si, t9_y, t9_tx, t9_ty), (x3_hx, x3_hy, sh, x3_y, [], []),
    (t10_hx, t10_hy, si, t10_y, t10_tx, t10_ty), (k_x, k_y, [], [], [], []),
    ([], [], sr, u1_y, [], []), ([], [], sq, u2_y, [], []), ([], [], sr, u3_y, [], []),
    ([], [], sq, u4_y, [], []), ([], [], sr, u5_y, [], []), ([], [], sq, u6_y, [], []),
    ([], [], sr, u7_y, [], []), ([], [], sq, u8_y, [], []), ([], [], sq, u9_y, [], []),
    ([], [], sr, u10_y, [], []), ([], [], sq, u11_y, [], []), ([], [], sr, u12_y, [], []),
    ([], [], sq, u13_y, [], []), ([], [], k2_x, k2_y, [], []),
]

FONT = "Liberation Sans"
PANEL_H = 1236
LEFT = 191
TOP = 46
GAP = 23
W1, W2 = 1728, 1701
PX_PER_X = 18.47
X0 = 9.07

def strip(name, frame_w, left, right):
    s = figure(frame_width=frame_w, frame_height=68, min_border_left=left, min_border_right=right,
               min_border_top=TOP, min_border_bottom=0, x_range=(0, 1), y_range=(0, 1),
               x_axis_location=None, y_axis_location=None, toolbar_location=None,
               output_backend="svg", background_fill_color="#d9d9d9", outline_line_color=None)
    s.grid.visible = False
    s.text([0.5], [0.5], text=[name], text_align="center", text_baseline="middle",
           text_font=value(FONT), text_font_size="34px", text_color="#1a1a1a")
    return s

def panel(series, frame_w, left, right, show_y):
    p = figure(frame_width=frame_w, frame_height=PANEL_H, min_border_left=left, min_border_right=right,
               min_border_top=0, min_border_bottom=62,
               x_range=Range1d(X0, X0 + frame_w / PX_PER_X), y_range=Range1d(0.1032, 1.0283),
               toolbar_location=None, output_backend="svg",
               background_fill_color="#ebebeb", outline_line_color=None)
    p.xaxis.ticker = FixedTicker(ticks=x_ticks, minor_ticks=x_minor)
    p.yaxis.ticker = FixedTicker(ticks=y_ticks, minor_ticks=y_minor)
    p.yaxis.formatter = NumeralTickFormatter(format="0.00")
    for ax in (p.xaxis[0], p.yaxis[0]):
        ax.axis_line_color = None
        ax.major_tick_line_color = "#333333"
        ax.major_tick_line_width = 4
        ax.major_tick_in = 0
        ax.major_tick_out = 11
        ax.minor_tick_line_color = None
        ax.major_label_text_font = FONT
        ax.major_label_text_font_size = "34px"
        ax.major_label_text_color = "#4d4d4d"
        ax.major_label_standoff = 10
    p.yaxis.visible = show_y
    if show_y:
        p.yaxis.axis_label = y_label
        p.yaxis.axis_label_text_font = FONT
        p.yaxis.axis_label_text_font_size = "43px"
        p.yaxis.axis_label_text_font_style = "normal"
        p.yaxis.axis_label_text_color = "#000000"
        p.yaxis.axis_label_standoff = 24
    for g in (p.xgrid[0], p.ygrid[0]):
        g.grid_line_color = "#ffffff"
        g.grid_line_width = 3.6
        g.minor_grid_line_color = "#ffffff"
        g.minor_grid_line_width = 1.8
    for hx, hy, gx, gy, tx, ty in series:
        n = min(len(gx), len(gy))
        xs = list(hx) + list(gx[:n]) + list(tx)
        ys = list(hy) + list(gy[:n]) + list(ty)
        p.line(xs, ys, line_color="#000000", line_width=3.5)
        p.scatter(xs, ys, size=19, fill_color="#000000", line_color=None)
    return p

strip1 = strip(panel_names[0], W1, LEFT, GAP)
strip2 = strip(panel_names[1], W2, 0, 0)
p1 = panel(ctt_series, W1, LEFT, GAP, True)
p2 = panel(irt_series, W2, 0, 0, False)

foot = figure(frame_width=3643, frame_height=28, min_border=0, x_range=(0, 3643), y_range=(0, 28),
              x_axis_location=None, y_axis_location=None, toolbar_location=None,
              output_backend="svg", outline_line_color=None)
foot.grid.visible = False
foot.text([1931], [-4], text=[x_label], text_align="center", text_baseline="alphabetic",
          text_font=value(FONT), text_font_size="43px", text_color="#000000")

layout = column(row(strip1, strip2, spacing=0), row(p1, p2, spacing=0), foot, spacing=0)
open("out.html", "w").write(file_html(layout, INLINE))
